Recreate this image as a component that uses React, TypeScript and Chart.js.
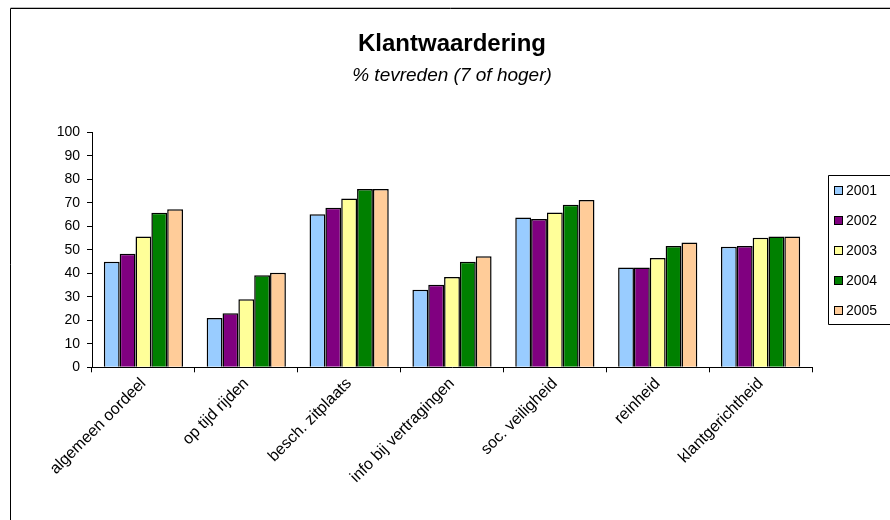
import React, { useEffect, useRef } from "react";
import { Chart, registerables } from "chart.js";

Chart.register(...registerables);

const categories = [
  "algemeen oordeel",
  "op tijd rijden",
  "besch. zitplaats",
  "info bij vertragingen",
  "soc. veiligheid",
  "reinheid",
  "klantgerichtheid",
];
const years = ["2001", "2002", "2003", "2004", "2005"];
const values2001 = [45, 21, 65.2, 33, 63.8, 42.5, 51.3];
const values2002 = [48.4, 23, 67.9, 35.2, 63.2, 42.5, 51.7];
const values2003 = [55.7, 29, 71.9, 38.5, 65.9, 46.6, 55.2];
const values2004 = [65.8, 39.2, 75.9, 45, 69.2, 51.7, 55.7];
const values2005 = [67.3, 40.3, 75.9, 47.3, 71.3, 53.1, 55.7];
const seriesValues = [values2001, values2002, values2003, values2004, values2005];
const seriesColors = ["#99CCFF", "#800080", "#FFFF99", "#008000", "#FFCC99"];
const yMin = 0;
const yMax = 100;
const yStep = 10;

const FONT = "'Liberation Sans', Arial, Helvetica, sans-serif";

const framePlugin = {
  id: "frameAndLegend",
  beforeDraw(chart: any) {
    const ctx = chart.ctx;
    ctx.save();
    ctx.fillStyle = "#ffffff";
    ctx.fillRect(0, 0, chart.width, chart.height);
    ctx.strokeStyle = "#bdbdbd";
    ctx.lineWidth = 1;
    ctx.beginPath();
    ctx.moveTo(10.5, 7.5);
    ctx.lineTo(chart.width + 5, 7.5);
    ctx.stroke();
    ctx.strokeStyle = "#000000";
    ctx.beginPath();
    ctx.moveTo(10.5, chart.height + 5);
    ctx.lineTo(10.5, 8.5);
    ctx.lineTo(chart.width + 5, 8.5);
    ctx.stroke();
    ctx.restore();
  },
  afterDraw(chart: any) {
    const ctx = chart.ctx;
    const ds = chart.data.datasets;
    ctx.save();
    const boxX = 828.5;
    const boxY = 175.5;
    const boxH = 149;
    ctx.strokeStyle = "#000000";
    ctx.lineWidth = 1;
    ctx.beginPath();
    ctx.moveTo(chart.width + 5, boxY);
    ctx.lineTo(boxX, boxY);
    ctx.lineTo(boxX, boxY + boxH);
    ctx.lineTo(chart.width + 5, boxY + boxH);
    ctx.stroke();
    ctx.font = `14px ${FONT}`;
    ctx.textBaseline = "middle";
    ctx.textAlign = "left";
    ds.forEach((d: any, i: number) => {
      const yc = 191 + i * 30;
      ctx.fillStyle = d.backgroundColor;
      ctx.fillRect(834.5, yc - 4.5, 8, 8);
      ctx.strokeStyle = "#000";
      ctx.strokeRect(834.5, yc - 4.5, 8, 8);
      ctx.fillStyle = "#000";
      ctx.fillText(d.label, 846, yc + 0.5);
    });
    ctx.restore();
  },
};

export default function App() {
  const ref = useRef<HTMLCanvasElement | null>(null);

  useEffect(() => {
    if (!ref.current) return;
    Chart.defaults.font.family = FONT;
    const chart = new Chart(ref.current, {
      type: "bar",
      data: {
        labels: categories,
        datasets: years.map((y, i) => ({
          label: y,
          data: seriesValues[i],
          backgroundColor: seriesColors[i],
          borderColor: "#000000",
          borderWidth: 1.5,
          categoryPercentage: 0.77,
          barPercentage: 1.0,
        })),
      },
      options: {
        responsive: false,
        animation: false,
        devicePixelRatio: 1,
        layout: { padding: { left: 10, right: 78, top: 0, bottom: 0 } },
        plugins: {
          legend: { display: false },
          tooltip: { enabled: false },
          title: {
            display: true,
            fullSize: false,
            text: "Klantwaardering",
            color: "#000",
            font: { size: 24, weight: "bold", family: FONT },
            padding: { top: 29.6, bottom: 0 },
          },
          subtitle: {
            display: true,
            fullSize: false,
            text: "% tevreden (7 of hoger)",
            color: "#000",
            font: { size: 19, style: "italic", family: FONT },
            padding: { top: 6, bottom: 45.3 },
          },
        },
        scales: {
          x: {
            ticks: {
              color: "#000",
              font: { size: 16, family: FONT },
              minRotation: 45,
              maxRotation: 45,
              padding: 2,
            },
            grid: {
              offset: true,
              drawOnChartArea: false,
              drawTicks: true,
              tickLength: 5,
              color: "#000",
            },
            border: { color: "#000", width: 1 },
            afterFit(scale: any) {
              scale.height = 520 - 367.3;
            },
          },
          y: {
            min: yMin,
            max: yMax,
            ticks: {
              stepSize: yStep,
              color: "#000",
              font: { size: 14, family: FONT },
              padding: 7,
            },
            grid: {
              drawOnChartArea: false,
              drawTicks: true,
              tickLength: 5,
              color: "#000",
            },
            border: { color: "#000", width: 1 },
            afterFit(scale: any) {
              scale.width = 82;
            },
          },
        },
      },
      plugins: [framePlugin],
    });
    return () => chart.destroy();
  }, []);

  return (
    <div style={{ position: "absolute", left: 0, top: 0, width: 890, height: 520 }}>
      <canvas ref={ref} width={890} height={520} style={{ display: "block" }} />
    </div>
  );
}
